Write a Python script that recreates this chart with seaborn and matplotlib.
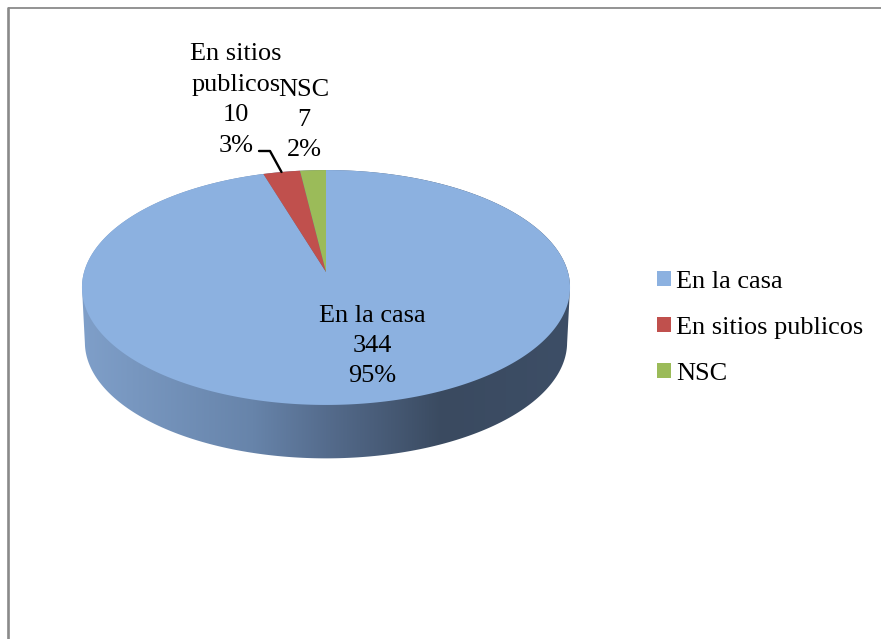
import numpy as np
import matplotlib
matplotlib.use('Agg')
import matplotlib.pyplot as plt
from matplotlib.colors import LinearSegmentedColormap
from matplotlib.patches import Patch, Polygon
import seaborn as sns

categories = ['En la casa', 'En sitios publicos', 'NSC']
values = [344, 10, 7]
label_names = ['En la casa', 'En sitios\npublicos', 'NSC']
colors = ['#8CB1E0', '#C0504D', '#9BBB59']
side_colors = ['#7f9fc9', '#6784aa', '#556c8d', '#3a4a60', '#3d4e66']

sns.set_theme(style='white')
plt.rcParams['font.family'] = ['Liberation Serif', 'DejaVu Serif']


def project(theta, scale=1.0, dy=0.0):
    # tilted disc with some perspective, theta is clockwise from 12 o'clock
    X, Y = np.sin(theta), np.cos(theta)
    d = 1 + 0.132 * Y
    return 326 + scale * 241.9 * X / d, 272 + dy - scale * 115.4 * Y / d


fig, ax = plt.subplots(figsize=(8.81, 6.39), dpi=100)
fig.subplots_adjust(0, 0, 1, 1)
ax.set_xlim(0, 881)
ax.set_ylim(639, 0)
ax.axis('off')

# outer frame, runs off the right and bottom edges
ax.plot([8.4, 8.4], [650, 7.3], color='#8a8a8a', lw=1.9, solid_capstyle='butt')
ax.plot([7.5, 890], [8, 8], color='#8a8a8a', lw=1.3, solid_capstyle='butt')

# side wall
t = np.linspace(0, 2 * np.pi, 721)
tx, ty = project(t)
bx, by = project(t, scale=0.988, dy=55)
upper = np.argsort(tx[ty < 287.5])
lower = np.argsort(bx[by > 343])[::-1]
outline = np.vstack([
    np.column_stack([tx[ty < 287.5][upper], ty[ty < 287.5][upper]]),
    np.column_stack([bx[by > 343][lower], by[by > 343][lower]]),
])
cmap = LinearSegmentedColormap.from_list('side', list(zip([0, 0.35, 0.5, 0.74, 1], side_colors)))
im = ax.imshow(np.linspace(0, 1, 256)[None, :], cmap=cmap, aspect='auto',
               extent=(82, 570, 470, 170), zorder=2)
clip = Polygon(outline, closed=True, transform=ax.transData, fc='none', ec='none')
ax.add_patch(clip)
im.set_clip_path(clip)
ax.set_xlim(0, 881)
ax.set_ylim(639, 0)

# top face, wedges go counter-clockwise from 12 o'clock in reverse order
shares = np.array(values) / sum(values)
ends = 2 * np.pi * (1 - np.cumsum(np.r_[0, shares[::-1]]))
starts_stops = {2: (ends[1], ends[0]), 1: (ends[2], ends[1]), 0: (ends[3], ends[2])}
for i, c in enumerate(colors):
    a, b = starts_stops[i]
    tt = np.linspace(a, b, 400)
    px, py = project(tt)
    ax.fill(np.r_[326, px], np.r_[272, py], color=c, lw=0, zorder=3)

# leader for the small slice
ax.plot([259, 270, 281.5], [151, 151, 172], color='black', lw=1.7, zorder=4)

# data labels
label_pos = [(372, 346), (236, 100), (304, 120)]
for name, v, s, (x, y) in zip(label_names, values, shares, label_pos):
    ax.text(x, y, f'{name}\n{v}\n{s * 100:.0f}%', ha='center', va='center', fontsize=18.9,
            color='black', linespacing=1.5, zorder=5)

handles = [Patch(color=c, label=n, lw=0) for c, n in zip(colors, categories)]
ax.legend(handles=handles, loc='upper left', bbox_to_anchor=(657 / 881, 1 - 270.5 / 639),
          frameon=False, fontsize=18.9, handlelength=0.53, handleheight=0.53,
          handletextpad=0.19, labelspacing=0.915, borderpad=0, borderaxespad=0,
          labelcolor='black')

fig.savefig('out.png', dpi=100)
